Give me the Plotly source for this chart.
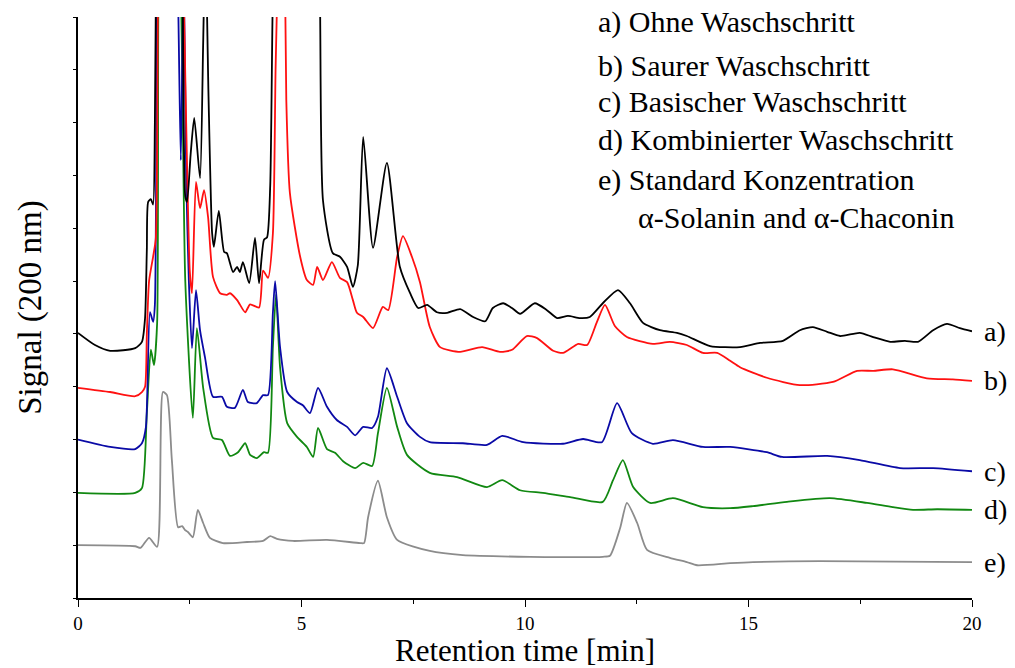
import plotly.graph_objects as go

# Retention time [min] and signal (arbitrary units, one unit per y tick) for each run
t_a = [0, 0.38, 0.72, 1.28, 1.43, 1.50, 1.54, 1.57, 1.63, 1.68, 1.72, 1.76, 1.85, 2.0, 2.2, 2.33,
       2.40, 2.44, 2.52, 2.60, 2.73, 2.80, 2.85, 2.92, 3.00, 3.04, 3.15, 3.27, 3.33, 3.47, 3.56, 3.62,
       3.69, 3.83, 3.96, 4.05, 4.16, 4.23, 4.30, 4.36, 4.5, 4.9, 5.3, 5.41, 5.48, 5.70, 5.86, 6.02,
       6.15, 6.26, 6.38, 6.60, 6.91, 7.20, 7.43, 7.61, 7.81, 8.03, 8.26, 8.55, 8.84, 9.11, 9.28, 9.51,
       9.71, 9.89, 10.22, 10.49, 10.72, 10.96, 11.23, 11.45, 11.74, 12.08, 12.35, 12.64, 13.02, 13.40,
       13.62, 14.14, 14.81, 15.26, 15.77, 16.15, 16.44, 16.76, 17.05, 17.49, 17.79, 18.17, 18.50,
       18.79, 19.13, 19.44, 19.73, 20.0]
s_a = [5.02, 4.79, 4.68, 4.73, 4.85, 5.30, 6.60, 7.50, 7.55, 7.45, 9.0, 13.0, 16.0, 16.0, 14.0, 12.0,
       7.60, 7.50, 8.40, 9.09, 7.95, 10.5, 12.5, 9.5, 6.91, 6.65, 7.33, 6.55, 6.53, 6.17, 6.27, 6.17,
       6.36, 5.96, 6.82, 5.96, 6.78, 6.83, 7.80, 11.5, 16.0, 18.0, 14.0, 11.5, 7.53, 6.53, 6.46, 6.27,
       5.89, 6.30, 8.73, 6.63, 8.24, 6.27, 5.77, 5.49, 5.55, 5.41, 5.40, 5.47, 5.32, 5.24, 5.49, 5.58,
       5.49, 5.38, 5.58, 5.45, 5.30, 5.34, 5.30, 5.32, 5.58, 5.83, 5.58, 5.21, 5.07, 5.02,
       4.96, 4.77, 4.75, 4.83, 4.87, 5.07, 5.13, 5.04, 4.96, 5.02, 4.94, 4.85, 4.87,
       4.85, 5.07, 5.19, 5.11, 5.05]

t_b = [0, 0.72, 1.28, 1.43, 1.50, 1.54, 1.59, 1.68, 1.74, 1.79, 1.9, 2.1, 2.3, 2.42, 2.50, 2.55,
       2.64, 2.73, 2.82, 2.91, 3.02, 3.18, 3.33, 3.40, 3.56, 3.74, 3.85, 4.05, 4.14, 4.25, 4.36, 4.42,
       4.47, 4.55, 4.66, 4.74, 4.97, 5.12, 5.26, 5.35, 5.48, 5.68, 5.86, 6.02, 6.15, 6.24, 6.38, 6.60,
       6.82, 6.94, 7.14, 7.27, 7.47, 7.65, 7.87, 8.10, 8.55, 9.04, 9.44, 9.71, 10.04, 10.27, 10.63,
       10.85, 11.19, 11.39, 11.61, 11.79, 12.01, 12.28, 12.86, 13.24, 13.62, 13.98, 14.30, 14.59,
       14.81, 15.41, 16.15, 16.89, 17.43, 17.79, 18.23, 18.99, 19.57, 20.0]
s_b = [3.98, 3.90, 3.82, 3.90, 4.00, 5.00, 6.00, 6.46, 6.80, 11.5, 18.0, 18.0, 14.0, 9.0, 6.2, 5.77,
       7.88, 7.38, 7.72, 7.21, 6.08, 5.77, 5.74, 5.77, 5.64, 5.41, 5.56, 5.50, 6.20, 6.06, 6.90, 10.0,
       12.0, 18.0, 9.43, 7.67, 6.46, 6.02, 5.93, 6.27, 6.02, 6.36, 6.06, 5.98, 5.64, 5.40, 5.32, 5.11,
       5.51, 5.45, 6.46, 6.85, 6.46, 5.98, 5.13, 4.75, 4.66, 4.75, 4.66, 4.70, 4.96, 4.92, 4.68,
       4.64, 4.81, 4.79, 5.23, 5.55, 5.15, 4.94, 4.81, 4.85, 4.79, 4.64, 4.64, 4.49,
       4.37, 4.17, 4.03, 4.09, 4.30, 4.30, 4.33, 4.16, 4.14, 4.11]

t_c = [0, 0.72, 1.28, 1.43, 1.52, 1.61, 1.68, 1.72, 1.77, 1.9, 2.1, 2.24, 2.30, 2.35, 2.37, 2.42,
       2.48, 2.55, 2.64, 2.73, 2.84, 3.02, 3.22, 3.33, 3.51, 3.69, 3.80, 4.00, 4.14, 4.25, 4.36, 4.41,
       4.52, 4.68, 4.90, 5.03, 5.19, 5.37, 5.57, 5.79, 6.02, 6.20, 6.38, 6.58, 6.71, 6.91, 7.14, 7.36,
       7.65, 7.87, 8.61, 9.15, 9.49, 9.96, 10.85, 11.30, 11.72, 12.06, 12.39, 12.86, 13.31, 13.98,
       14.59, 15.41, 15.75, 16.76, 17.49, 18.39, 19.13, 20.0]
s_c = [3.00, 2.86, 2.82, 2.93, 3.24, 5.41, 5.23, 5.55, 11.5, 18.0, 16.0, 11.3, 8.29, 11.2, 11.5, 8.0,
       6.0, 4.73, 5.83, 5.07, 4.56, 3.81, 3.81, 3.62, 3.60, 3.94, 3.71, 3.69, 3.84, 3.84, 5.40, 6.00,
       4.75, 3.90, 3.71, 3.65, 3.50, 3.98, 3.62, 3.37, 3.24, 3.08, 3.24, 3.22, 3.43, 4.35, 3.81, 3.31,
       3.05, 2.95, 2.93, 2.90, 3.07, 2.95, 2.92, 3.01, 2.95, 3.69, 3.12, 2.92, 2.99, 2.86,
       2.86, 2.76, 2.67, 2.69, 2.61, 2.46, 2.46, 2.40]

t_d = [0, 1.28, 1.43, 1.54, 1.63, 1.70, 1.77, 1.80, 1.9, 2.1, 2.30, 2.40, 2.57, 2.66, 2.80, 3.02,
       3.22, 3.40, 3.58, 3.74, 3.85, 4.00, 4.16, 4.25, 4.36, 4.43, 4.52, 4.68, 4.90, 5.12, 5.26, 5.37,
       5.57, 5.75, 5.93, 6.20, 6.38, 6.58, 6.71, 6.91, 7.14, 7.36, 7.87, 8.48, 9.15, 9.49, 9.89,
       10.40, 11.01, 11.74, 11.97, 12.19, 12.42, 12.80, 13.31, 13.98, 14.59, 15.10, 15.86, 16.82,
       17.65, 18.23, 18.68, 19.22, 20.0]
s_d = [1.99, 1.99, 2.08, 3.50, 4.70, 4.41, 5.20, 11.5, 16.0, 15.0, 11.5, 6.0, 3.41, 5.11, 3.98, 3.03,
       2.99, 2.69, 2.76, 2.93, 2.71, 2.65, 2.76, 2.75, 4.75, 5.75, 4.37, 3.31, 3.05, 2.86, 2.67, 3.22,
       2.82, 2.75, 2.59, 2.46, 2.56, 2.50, 3.12, 3.98, 3.24, 2.71, 2.37, 2.29, 2.10, 2.23, 2.04,
       1.99, 1.91, 1.82, 2.23, 2.61, 2.10, 1.80, 1.89, 1.72, 1.70, 1.74, 1.82, 1.89,
       1.80, 1.72, 1.67, 1.68, 1.67]

t_e = [0, 1.28, 1.40, 1.59, 1.77, 1.90, 1.99, 2.10, 2.24, 2.33, 2.39, 2.46, 2.57, 2.68, 2.80, 2.95,
       3.24, 3.78, 4.14, 4.30, 4.45, 4.81, 5.57, 6.31, 6.40, 6.49, 6.71, 6.91, 7.14, 7.87, 8.61,
       10.11, 11.74, 11.90, 12.13, 12.28, 12.51, 12.73, 13.24, 13.62, 13.85, 14.59, 15.10, 16.60, 20.0]
s_e = [1.00, 0.98, 0.95, 1.14, 0.97, 3.90, 3.84, 2.61, 1.34, 1.36, 1.29, 1.25, 1.15, 1.67, 1.42, 1.14,
       1.04, 1.06, 1.08, 1.17, 1.12, 1.08, 1.10, 1.04, 1.04, 1.53, 2.22, 1.53, 1.10, 0.89, 0.81,
       0.78, 0.78, 0.80, 1.33, 1.80, 1.42, 0.91, 0.76, 0.68, 0.62, 0.66, 0.68, 0.70, 0.68]

series = [
    ("e", t_e, s_e, "#8c8c8c"),
    ("d", t_d, s_d, "#118811"),
    ("c", t_c, s_c, "#0a0aa6"),
    ("b", t_b, s_b, "#ff1111"),
    ("a", t_a, s_a, "#000000"),
]

legend_lines = [
    "a) Ohne Waschschritt",
    "b) Saurer Waschschritt",
    "c) Basischer Waschschritt",
    "d) Kombinierter Waschschritt",
    "e) Standard Konzentration",
    "α-Solanin and α-Chaconin",
]
# legend text placement in pixels (left edge, vertical centre)
legend_y = [22, 66, 102, 140, 180, 217]
legend_x = [596, 596, 596, 596, 596, 636]

SERIF = "Liberation Serif, Times New Roman, serif"
W, H = 1015, 668
ML, MR, MT, MB = 78, 43, 17, 70

fig = go.Figure()
for name, t, s, col in series:
    fig.add_trace(go.Scatter(
        x=t, y=s, mode="lines", name=name,
        line=dict(color=col, width=1.8, shape="spline", smoothing=0.6),
        showlegend=False,
    ))
    # trace label at the right end
    fig.add_annotation(
        x=1.0, xref="paper", y=s[-1], yref="y",
        text=f"{name})", showarrow=False, xanchor="left", xshift=10,
        font=dict(family=SERIF, size=28, color="black"),
    )

for txt, ly, lx in zip(legend_lines, legend_y, legend_x):
    fig.add_annotation(
        x=(lx - ML) / (W - ML - MR), xref="paper",
        y=1 - (ly - MT) / (H - MT - MB), yref="paper",
        text=txt, showarrow=False, xanchor="left", yanchor="middle",
        font=dict(family=SERIF, size=30, color="black"),
    )

fig.update_layout(
    width=W, height=H,
    margin=dict(l=ML, r=MR, t=MT, b=MB),
    plot_bgcolor="white", paper_bgcolor="white",
    font=dict(family=SERIF, color="black"),
)
fig.update_xaxes(
    range=[0, 20], tickvals=[0, 5, 10, 15, 20], showgrid=False, zeroline=False,
    showline=True, linecolor="black", linewidth=1.5, automargin=False,
    ticks="outside", ticklen=7, tickwidth=1.2, tickcolor="black",
    minor=dict(tickvals=[2.5, 7.5, 12.5, 17.5], ticks="outside", ticklen=4, tickcolor="black"),
    tickfont=dict(family=SERIF, size=19),
    title=dict(text="Retention time [min]", font=dict(family=SERIF, size=31), standoff=14),
)
fig.update_yaxes(
    range=[0, 11], dtick=1, showgrid=False, zeroline=False,
    showline=True, linecolor="black", linewidth=1.5, automargin=False,
    ticks="outside", ticklen=3, tickcolor="black", showticklabels=False,
    title=dict(text="Signal (200 nm)", font=dict(family=SERIF, size=33), standoff=22),
)

fig.write_html("out.html")
